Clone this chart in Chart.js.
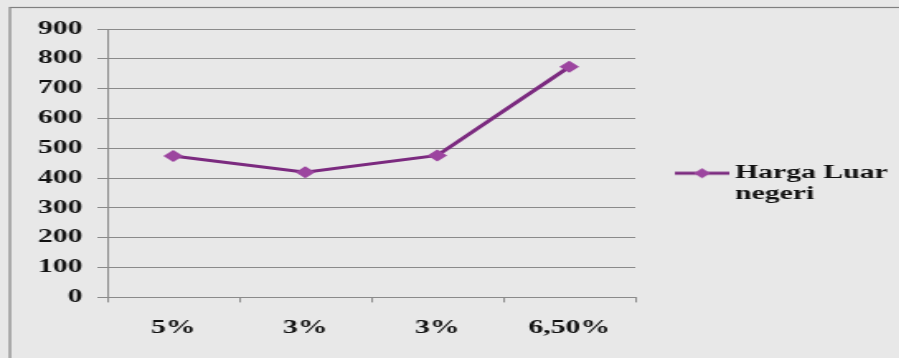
<!DOCTYPE html>
<html><head><meta charset="utf-8">
<script src="https://cdn.jsdelivr.net/npm/chart.js@4"></script>
<style>
html,body{margin:0;padding:0;background:#e8e8e8;overflow:hidden;width:899px;height:358px}
#wrap{position:absolute;left:0;top:0;width:548px;height:358px;transform:scaleX(1.65);transform-origin:0 0}
</style></head><body>
<div id="wrap"><canvas id="c"></canvas></div>
<script>
const categories = ['5%', '3%', '3%', '6,50%'];
const hargaLuarNegeri = [474, 420, 476, 773];
const yTicks = [0, 100, 200, 300, 400, 500, 600, 700, 800, 900];
const seriesLabel = ['Harga Luar', 'negeri'];

const LINE = '#7b2a7f';
const POINT = '#9c459f';
const GRID = '#8a8a8a';
const FAMILY = '"Liberation Serif", Tinos, "Times New Roman", serif';
const FONT = {family: FAMILY, weight: 'bold', size: 18};

// legend marker: line with a diamond in the middle
const mk = document.createElement('canvas');
mk.width = 33; mk.height = 12;
(function(){
  const g = mk.getContext('2d');
  g.strokeStyle = LINE; g.lineWidth = 3;
  g.beginPath(); g.moveTo(0, 6); g.lineTo(33, 6); g.stroke();
  g.fillStyle = POINT;
  g.beginPath(); g.moveTo(16.5, 1); g.lineTo(21.5, 6); g.lineTo(16.5, 11); g.lineTo(11.5, 6); g.closePath(); g.fill();
})();

const frame = {
  id: 'frame',
  beforeDraw(chart) {
    const ctx = chart.ctx;
    ctx.save();
    ctx.strokeStyle = '#808080';
    ctx.lineWidth = 1.2;
    ctx.strokeRect(6, 7.5, chart.width + 20, chart.height + 20);
    ctx.restore();
  }
};

// Excel-style legend: line + diamond marker, label on two lines, right of the plot
const lineLegend = {
  id: 'lineLegend',
  afterDraw(chart) {
    const {ctx, chartArea: a} = chart;
    const x0 = a.right + 24;
    const cy = (a.top + a.bottom) / 2 + 10;
    ctx.save();
    ctx.drawImage(mk, x0, cy - 6);
    ctx.font = 'bold 18px ' + FAMILY;
    ctx.fillStyle = '#111';
    ctx.textAlign = 'left';
    ctx.textBaseline = 'middle';
    seriesLabel.forEach((t, i) => ctx.fillText(t, x0 + 36.5, cy + i * 21.6));
    ctx.restore();
  }
};

function draw() {
  new Chart(document.getElementById('c'), {
    type: 'line',
    data: {
      labels: categories,
      datasets: [{
        label: seriesLabel.join(' '),
        data: hargaLuarNegeri,
        borderColor: LINE,
        backgroundColor: POINT,
        borderWidth: 3,
        pointStyle: 'rectRot',
        pointRadius: 6,
        pointBackgroundColor: POINT,
        pointBorderColor: POINT,
        pointBorderWidth: 0,
        tension: 0
      }]
    },
    options: {
      responsive: true,
      maintainAspectRatio: false,
      animation: false,
      layout: {padding: {left: 14, top: 29, bottom: 4, right: 163}},
      plugins: {
        tooltip: {enabled: false},
        legend: {display: false}
      },
      scales: {
        x: {
          offset: true,
          grid: {offset: true, drawOnChartArea: false, drawTicks: true, tickLength: 5, color: GRID},
          border: {color: GRID, width: 1},
          ticks: {font: FONT, color: '#111', padding: 15, maxRotation: 0}
        },
        y: {
          min: 0, max: 900,
          afterBuildTicks: s => { s.ticks = yTicks.map(v => ({value: v})); },
          grid: {color: GRID, lineWidth: 1, tickLength: 6},
          border: {color: GRID, width: 1},
          ticks: {font: FONT, color: '#111', padding: 9}
        }
      }
    },
    plugins: [frame, lineLegend]
  });
}
if (document.fonts && document.fonts.load) {
  document.fonts.load('bold 18px "Liberation Serif"').then(draw, draw);
} else { draw(); }
</script>
</body></html>
